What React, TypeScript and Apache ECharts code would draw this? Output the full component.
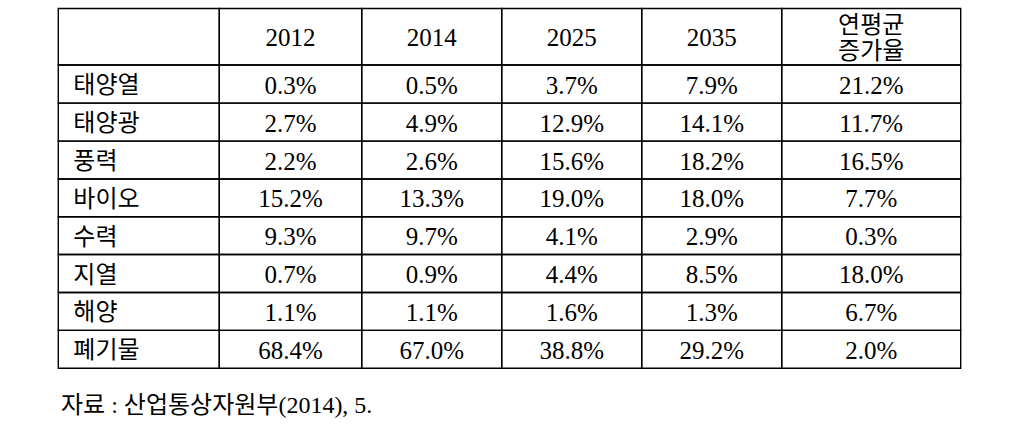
import React, { useEffect, useRef } from "react";
import * as echarts from "echarts";

// ---- data ----
const years = ["2012", "2014", "2025", "2035"];
const growthHeader = "연평균\n증가율";
const sources = ["태양열", "태양광", "풍력", "바이오", "수력", "지열", "해양", "폐기물"];
const share2012 = [0.3, 2.7, 2.2, 15.2, 9.3, 0.7, 1.1, 68.4];
const share2014 = [0.5, 4.9, 2.6, 13.3, 9.7, 0.9, 1.1, 67.0];
const share2025 = [3.7, 12.9, 15.6, 19.0, 4.1, 4.4, 1.6, 38.8];
const share2035 = [7.9, 14.1, 18.2, 18.0, 2.9, 8.5, 1.3, 29.2];
const annualGrowth = [21.2, 11.7, 16.5, 7.7, 0.3, 18.0, 6.7, 2.0];
const note = "자료 : 산업통상자원부(2014), 5.";

// ---- layout (table geometry in axis units = pixels) ----
const colEdges = [0, 161, 303.4, 443.4, 583.4, 723.4, 902.4];
const rowEdges = [0, 56.5, 94.6, 132.6, 170.5, 208.2, 246.0, 284.0, 321.9, 359.8];
const FONT = "'Liberation Serif', 'Noto Sans CJK KR', serif";

export default function App() {
  const ref = useRef<HTMLDivElement>(null);
  useEffect(() => {
    if (!ref.current) return;
    const chart = echarts.init(ref.current, undefined, { renderer: "svg" });
    const fmt = (v: number) => v.toFixed(1) + "%";
    const columns = [share2012, share2014, share2025, share2035, annualGrowth];
    const cells: any[] = [];
    cells.push([0, 0, "", "left"]);
    years.forEach((y, i) => cells.push([i + 1, 0, y, "center"]));
    cells.push([5, 0, growthHeader, "center"]);
    sources.forEach((s, r) => {
      cells.push([0, r + 1, s, "left"]);
      columns.forEach((col, c) => cells.push([c + 1, r + 1, fmt(col[r]), "center"]));
    });

    chart.setOption({
      animation: false,
      grid: { left: 58.3, right: 1018 - 960.7, top: 8.5, bottom: 427 - 368.3 },
      xAxis: { type: "value", min: 0, max: colEdges[colEdges.length - 1], show: false },
      yAxis: { type: "value", min: 0, max: rowEdges[rowEdges.length - 1], inverse: true, show: false },
      graphic: [
        {
          type: "text",
          left: 61,
          top: 393,
          style: { text: note, font: `24px ${FONT}`, fill: "#000" },
        },
      ],
      series: [
        {
          type: "custom",
          data: cells,
          renderItem: (params: any, api: any) => {
            const c = api.value(0);
            const r = api.value(1);
            const text = cells[params.dataIndex][2];
            const align = cells[params.dataIndex][3];
            const p0 = api.coord([colEdges[c], rowEdges[r]]);
            const p1 = api.coord([colEdges[c + 1], rowEdges[r + 1]]);
            const w = p1[0] - p0[0];
            const h = p1[1] - p0[1];
            return {
              type: "group",
              children: [
                {
                  type: "rect",
                  shape: { x: p0[0], y: p0[1], width: w, height: h },
                  style: { fill: "none", stroke: "#000", lineWidth: 1.4 },
                },
                {
                  type: "text",
                  style: {
                    text,
                    x: align === "left" ? p0[0] + 15 : p0[0] + w / 2,
                    y: p0[1] + h / 2 + 1,
                    align: align,
                    verticalAlign: "middle",
                    fontFamily: FONT,
                    fontSize: c === 0 || (r === 0 && c === 5) ? 24 : 25,
                    lineHeight: 26,
                    fill: "#000",
                  },
                },
              ],
            };
          },
        },
      ],
    });
    return () => chart.dispose();
  }, []);
  return (
    <div
      ref={ref}
      style={{ position: "fixed", left: 0, top: 0, width: 1018, height: 427, background: "#fff" }}
    />
  );
}
